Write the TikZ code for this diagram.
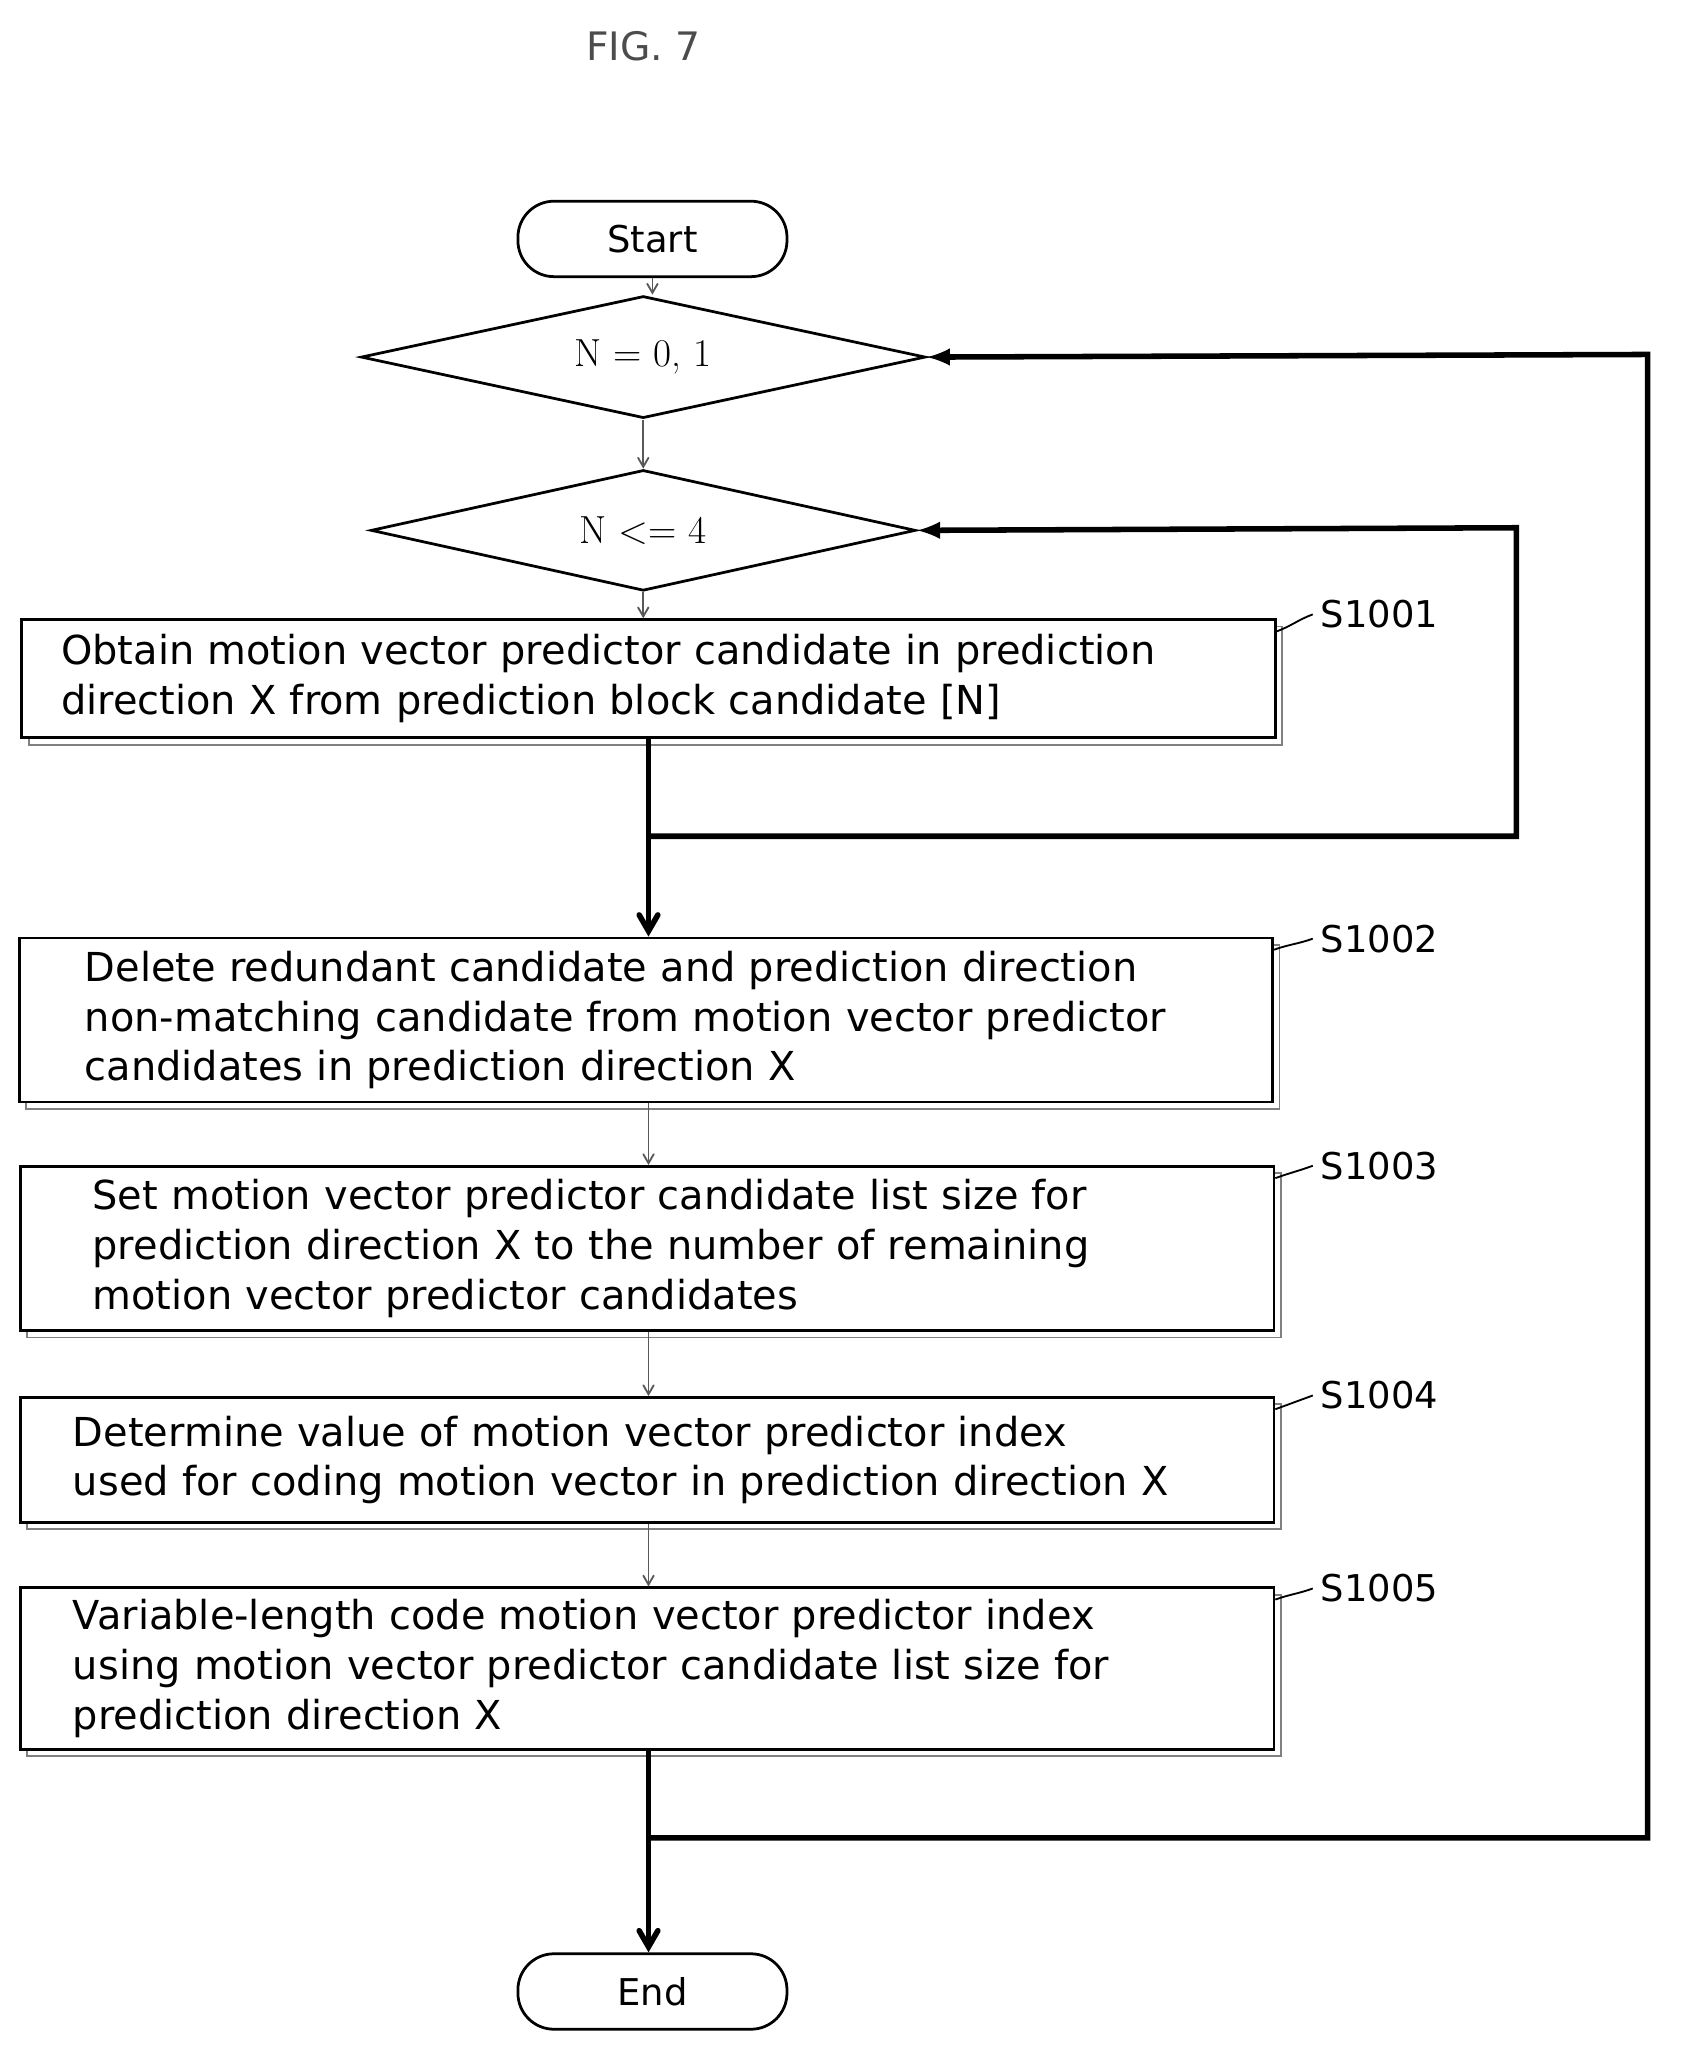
\documentclass[tikz,border=0pt]{standalone}
\usepackage{fontspec}
\setsansfont{DejaVu Sans}
\usetikzlibrary{arrows,shapes.geometric,positioning,shadows}
\tikzset{
  step/.style={draw, very thick, fill=white, minimum height=#1, text width=18.1cm, align=left,
    font=\sffamily\fontsize{17.3}{21.5}\selectfont, inner xsep=0.5cm,
    copy shadow={shadow xshift=3pt, shadow yshift=-3pt, draw=gray, fill=white, thick}},
  term/.style={draw, very thick, rounded corners=0.55cm, minimum width=4.1cm, minimum height=1.15cm,
    font=\sffamily\fontsize{16}{19}\selectfont},
  cond/.style={draw, very thick, diamond, aspect=4.6, inner sep=0pt, font=\rmfamily\fontsize{17}{20}\selectfont},
  lab/.style={font=\sffamily\fontsize{16}{19}\selectfont, anchor=west},
  flow/.style={->, >=angle 60, gray!70!black, thick},
}
\begin{document}
\begin{tikzpicture}[x=0.02cm, y=-0.02cm]
  \useasboundingbox (0,0) rectangle (1280,1573);
  \node[font=\sffamily\fontsize{17}{20}\selectfont, gray!60!black] (fig) at (490,35) {FIG. 7};

  \node[term] (start) at (497,182) {Start};
  \node[cond, minimum width=8.6cm, minimum height=1.86cm] (d1) at (490,272) {N = 0, 1};
  \node[cond, minimum width=8.3cm, minimum height=1.84cm] (d2) at (490,404) {N <= 4};
  \node[step=1.8cm] (s1) at (494,517) {\hspace*{0.1cm}Obtain motion vector predictor candidate in prediction\\\hspace*{0.1cm}direction X from prediction block candidate [N]};
  \node[step=2.5cm] (s2) at (492,777) {\hspace*{0.5cm}Delete redundant candidate and prediction direction\\\hspace*{0.5cm}non-matching candidate from motion vector predictor\\\hspace*{0.5cm}candidates in prediction direction X};
  \node[step=2.5cm] (s3) at (493,951) {\hspace*{0.6cm}Set motion vector predictor candidate list size for\\\hspace*{0.6cm}prediction direction X to the number of remaining\\\hspace*{0.6cm}motion vector predictor candidates};
  \node[step=1.9cm] (s4) at (493,1112) {\hspace*{0.3cm}Determine value of motion vector predictor index\\\hspace*{0.3cm}used for coding motion vector in prediction direction X};
  \node[step=2.46cm] (s5) at (493,1271) {\hspace*{0.3cm}Variable-length code motion vector predictor index\\\hspace*{0.3cm}using motion vector predictor candidate list size for\\\hspace*{0.3cm}prediction direction X};
  \node[term] (end) at (497,1517) {End};

  % step labels
  \foreach \s/\y in {1/468,2/715,3/888,4/1063,5/1210} {
    \node[lab] (l\s) at (1000,\y) {S100\s};
    \draw[thick] (s\s.north east) ++(0,10) to[out=20,in=200] (l\s.west);
  }

  \coordinate (j1) at (494,637);
  \coordinate (j2) at (494,1400);
  \draw[flow] (start) -- (start |- d1.north);
  \draw[flow] (d1) -- (d2);
  \draw[flow] (d2) -- (d2 |- s1.north);
  \draw[line width=2.4pt] (s1.south -| j1) -- (j1);
  \draw[line width=2.4pt, ->, >=angle 60] (j1) -- (j1 |- s2.north);
  \draw[flow] (s2.south -| j1) -- (j1 |- s3.north);
  \draw[flow] (s3.south -| j1) -- (j1 |- s4.north);
  \draw[flow] (s4.south -| j1) -- (j1 |- s5.north);
  \draw[line width=2.4pt] (s5.south -| j2) -- (j2);
  \draw[line width=2.4pt, ->, >=angle 60] (j2) -- (j2 |- end.north);
  \draw[line width=2.4pt, ->, >=latex] (j1) -- (1155,637) -- (1155,402) -- (d2.east);
  \draw[line width=2.4pt, ->, >=latex] (j2) -- (1255,1400) -- (1255,270) -- (d1.east);
\end{tikzpicture}
\end{document}
